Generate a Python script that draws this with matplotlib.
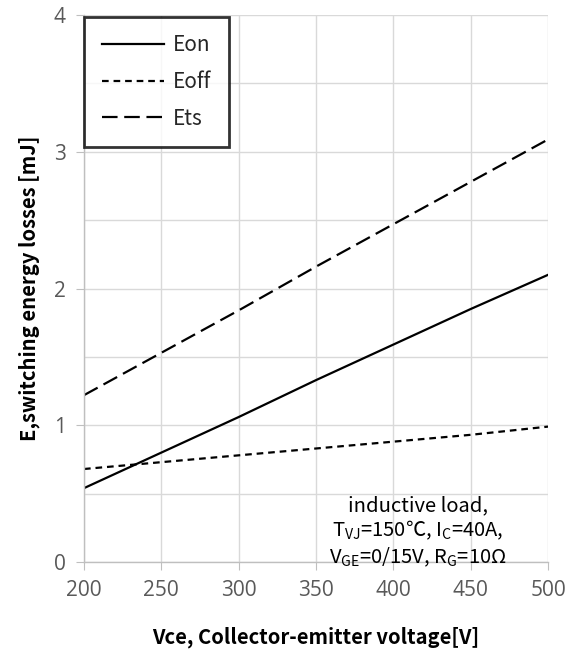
import numpy as np
import matplotlib.pyplot as plt

# ---------------------------------------------------------------
# Data
# ---------------------------------------------------------------
vce = [200, 250, 300, 350, 400, 450, 500]
e_on = [0.54, 0.80, 1.06, 1.33, 1.59, 1.85, 2.10]
e_off = [0.68, 0.73, 0.78, 0.83, 0.88, 0.93, 0.99]
e_ts = [1.22, 1.53, 1.84, 2.16, 2.47, 2.78, 3.09]

x_ticks = [200, 250, 300, 350, 400, 450, 500]
y_ticks = [0, 1, 2, 3, 4]

LABEL_FONT = ["Noto Sans CJK KR", "DejaVu Sans"]
TICK_FONT = ["Open Sans", "DejaVu Sans"]
plt.rcParams["mathtext.default"] = "regular"

fig = plt.figure(figsize=(5.82, 6.54), dpi=100)
ax = fig.add_axes([0.1443, 0.1407, 0.7973, 0.8363])

ax.plot(vce, e_on, color="black", lw=1.6, label="Eon")
ax.plot(vce, e_off, color="black", lw=1.6, dashes=(3, 2.2), label="Eoff")
ax.plot(vce, e_ts, color="black", lw=1.6, dashes=(7, 3), label="Ets")

ax.set_xlim(200, 500)
ax.set_ylim(0, 4)
ax.set_xticks(x_ticks)
ax.set_yticks(y_ticks)
ax.set_yticks(np.arange(0, 4.01, 0.5), minor=True)
ax.tick_params(axis="y", which="minor", length=0)
ax.grid(True, which="both", color="#d9d9d9", lw=1.0)
ax.set_axisbelow(True)

for sp in ["top", "right"]:
    ax.spines[sp].set_visible(False)
for sp in ["left", "bottom"]:
    ax.spines[sp].set_color("#bfbfbf")
    ax.spines[sp].set_linewidth(1.0)
ax.tick_params(axis="both", which="major", color="#bfbfbf", length=6,
               labelcolor="#595959", labelsize=15)
for lab in ax.get_xticklabels() + ax.get_yticklabels():
    lab.set_family(TICK_FONT)
ax.tick_params(axis="x", pad=7)
ax.tick_params(axis="y", pad=7)

ax.set_xlabel("Vce, Collector-emitter voltage[V]", family=LABEL_FONT,
              fontsize=14.5, fontweight="bold", labelpad=18)
ax.set_ylabel("E,switching energy losses [mJ]", family=LABEL_FONT,
              fontsize=14.5, fontweight="bold", labelpad=10)

leg = ax.legend(loc="upper left", bbox_to_anchor=(0.0, 0.997),
                borderaxespad=0.0, handlelength=3.0, handletextpad=0.4,
                labelspacing=0.7, borderpad=0.85, fancybox=False,
                prop={"family": LABEL_FONT, "size": 15})
leg.get_frame().set_edgecolor("black")
leg.get_frame().set_linewidth(2.0)
for t in leg.get_texts():
    t.set_color("#262626")

ax.text(0.72, 0.055,
        "inductive load,\n"
        "$T_{VJ}$=150\u2103, $I_{C}$=40A,\n"
        "$V_{GE}$=0/15V, $R_{G}$=10\u03a9",
        transform=ax.transAxes, ha="center", va="center",
        family=LABEL_FONT, fontsize=14.5, linespacing=1.18, color="black")

fig.savefig("out.png", dpi=100)
